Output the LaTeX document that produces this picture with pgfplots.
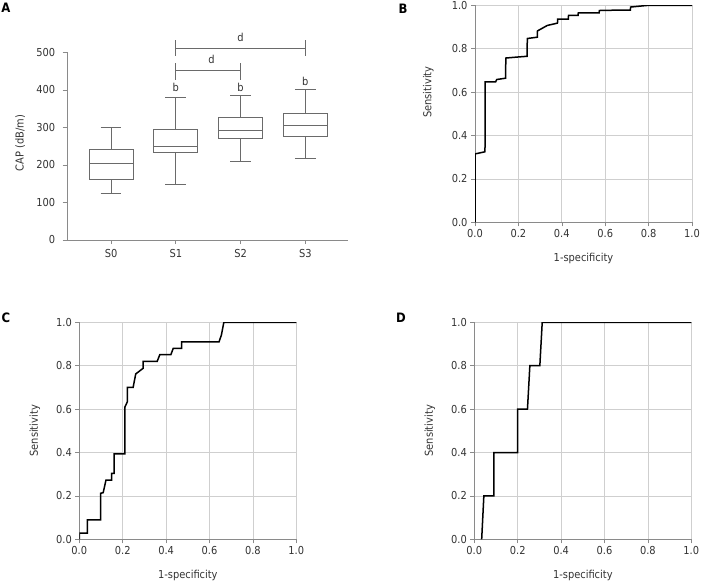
\documentclass[border=0pt]{standalone}
\usepackage{fontspec}
\setmainfont{DejaVu Sans Condensed}
\usepackage{pgfplots}
\pgfplotsset{compat=1.18}
\usepgfplotslibrary{statistics}
\definecolor{axgray}{HTML}{8A8A8A}
\definecolor{gridgray}{HTML}{CFCFCF}
\definecolor{txt}{HTML}{333333}
\definecolor{boxgray}{HTML}{6A6A6A}
\pgfplotsset{
  common/.style={
    scale only axis,
    font=\fontsize{11}{13}\selectfont,
    /pgf/number format/assume math mode=true,
    tick label style={text=txt},
    label style={text=txt},
    axis line style={axgray,-},
    tick style={axgray, line width=0.6bp},
    tick align=outside,
    major tick length=4bp,
  },
  roc/.style={
    common,
    width=217bp, height=217bp,
    xmin=0, xmax=1, ymin=0, ymax=1,
    axis x line*=bottom, axis y line*=left,
    xtick={0,0.2,0.4,0.6,0.8,1}, ytick={0,0.2,0.4,0.6,0.8,1},
    xticklabel style={/pgf/number format/.cd, fixed, fixed zerofill, precision=1},
    yticklabel style={/pgf/number format/.cd, fixed, fixed zerofill, precision=1},
    grid=major,
    major grid style={gridgray, line width=0.8bp},
    xlabel={1-specificity},
    xlabel style={at={(axis description cs:0.5,-0.166)}, anchor=center},
    ylabel={Sensitivity},
    ylabel style={at={(axis description cs:-0.205,0.5)}, anchor=center},
  },
  curve/.style={black, line width=1.5bp},
}
\begin{document}
\begin{tikzpicture}
\path[use as bounding box] (0bp,0bp) rectangle (704bp,-582bp);

% Panel A
\begin{axis}[common,
  at={(66.7bp,-240bp)}, anchor=south west,
  width=281.3bp, height=187.7bp,
  xmin=-0.685, xmax=3.66, ymin=0, ymax=500,
  axis x line*=bottom, axis y line*=left,
  xtick={0,1,2,3}, xticklabels={S0,S1,S2,S3},
  ytick={0,100,200,300,400,500},
  yticklabel style={xshift=-4bp},
  xticklabel style={yshift=-2bp},
  ylabel={CAP (dB/m)},
  ylabel style={at={(axis description cs:-0.165,0.516)}, anchor=center},
  clip=false,
  boxplot/draw direction=y,
]
\addplot[boxgray, line width=0.9bp, boxplot prepared={draw position=0, lower whisker=125, lower quartile=160, median=203, upper quartile=240, upper whisker=300, box extend=0.68, whisker extend=0.32}] coordinates {};
\addplot[boxgray, line width=0.9bp, boxplot prepared={draw position=1, lower whisker=148, lower quartile=232, median=250, upper quartile=295, upper whisker=381, box extend=0.68, whisker extend=0.32}] coordinates {};
\addplot[boxgray, line width=0.9bp, boxplot prepared={draw position=2, lower whisker=208, lower quartile=270, median=292, upper quartile=326, upper whisker=384, box extend=0.68, whisker extend=0.32}] coordinates {};
\addplot[boxgray, line width=0.9bp, boxplot prepared={draw position=3, lower whisker=217, lower quartile=277, median=304, upper quartile=338, upper whisker=400, box extend=0.68, whisker extend=0.32}] coordinates {};
% significance brackets
\addplot[boxgray, line width=0.9bp] coordinates {(1,511) (3,511)};
\addplot[boxgray, line width=0.9bp] coordinates {(1,491) (1,533)};
\addplot[boxgray, line width=0.9bp] coordinates {(3,491) (3,533)};
\addplot[boxgray, line width=0.9bp] coordinates {(1,451) (2,451)};
\addplot[boxgray, line width=0.9bp] coordinates {(1,427) (1,472)};
\addplot[boxgray, line width=0.9bp] coordinates {(2,427) (2,472)};
\node[text=txt] at (axis cs:2,540) {d};
\node[text=txt] at (axis cs:1.55,480) {d};
\node[text=txt] at (axis cs:1,407) {b};
\node[text=txt] at (axis cs:2,407) {b};
\node[text=txt] at (axis cs:3,423) {b};
\end{axis}

% Panel B
\begin{axis}[roc, at={(475bp,-222.3bp)}, anchor=south west,
  ylabel style={at={(axis description cs:-0.215,0.6)}}]
\addplot[curve] coordinates {
(0,0) (0,0.315) (0.046,0.325) (0.047,0.647) (0.095,0.647) (0.1,0.658)
(0.141,0.664) (0.142,0.757) (0.2,0.762) (0.24,0.765) (0.241,0.847)
(0.287,0.853) (0.288,0.882) (0.333,0.907) (0.38,0.918) (0.381,0.936)
(0.43,0.936) (0.431,0.954) (0.475,0.954) (0.476,0.965) (0.572,0.965)
(0.573,0.976) (0.667,0.978) (0.716,0.978) (0.717,0.992) (0.8,1) (1,1)};
\end{axis}

% Panel C
\begin{axis}[roc, at={(79.3bp,-539.3bp)}, anchor=south west]
\addplot[curve] coordinates {
(0,0) (0,0.028) (0.037,0.028) (0.037,0.089) (0.098,0.089) (0.098,0.212)
(0.11,0.215) (0.123,0.273) (0.149,0.273) (0.149,0.304) (0.161,0.304)
(0.161,0.394) (0.21,0.394) (0.21,0.609) (0.222,0.635) (0.222,0.70)
(0.248,0.70) (0.26,0.762) (0.294,0.788) (0.294,0.82) (0.359,0.82)
(0.371,0.851) (0.422,0.851) (0.433,0.88) (0.471,0.88) (0.471,0.91)
(0.644,0.91) (0.655,0.942) (0.666,1) (1,1)};
\end{axis}

% Panel D
\begin{axis}[roc, at={(474.3bp,-539.3bp)}, anchor=south west]
\addplot[curve] coordinates {
(0.034,0) (0.044,0.2) (0.09,0.2) (0.09,0.4) (0.2,0.4) (0.2,0.6)
(0.245,0.6) (0.256,0.8) (0.302,0.8) (0.313,1) (1,1)};
\end{axis}

% Panel letters
\node[font=\fontsize{13}{13}\selectfont\bfseries] at (6bp,-8bp) {A};
\node[font=\fontsize{13}{13}\selectfont\bfseries] at (403bp,-9bp) {B};
\node[font=\fontsize{13}{13}\selectfont\bfseries] at (6bp,-318bp) {C};
\node[font=\fontsize{13}{13}\selectfont\bfseries] at (401bp,-318bp) {D};
\end{tikzpicture}
\end{document}
